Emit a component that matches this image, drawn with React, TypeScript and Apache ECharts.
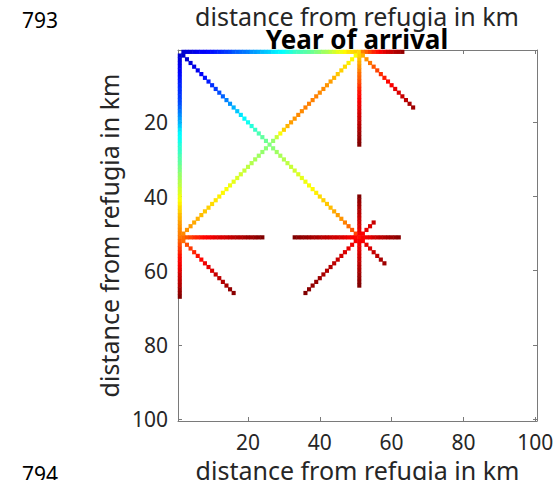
import React, { useEffect, useRef } from "react";
import * as echarts from "echarts";

// grid categories (km, 1..100)
const cells: string[] = Array.from({ length: 100 }, (_, i) => String(i + 1));
const tickValues = [20, 40, 60, 80, 100];

// arrival-year values read along each dispersal ray (jet scale 0..100)
const topRowVals = [8, 9, 9, 10, 11, 12, 12, 13, 14, 15, 16, 17, 18, 19, 21, 22, 23, 24, 25, 27, 28, 29, 31, 32, 33, 35, 36, 37, 38, 40, 41, 43, 44, 45, 46, 47, 48, 50, 51, 53, 54, 56, 58, 60, 61, 63, 65, 66, 67, 66, 75, 78, 81, 84, 86, 88, 90, 92, 93, 95, 96, 98];
const leftColVals = [8, 9, 10, 11, 12, 13, 14, 15, 16, 17, 17, 18, 19, 20, 22, 24, 26, 28, 30, 32, 35, 37, 38, 39, 41, 42, 43, 45, 46, 47, 49, 50, 52, 53, 55, 56, 58, 59, 61, 62, 64, 66, 67, 69, 70, 72, 73, 74, 75, 76, 78, 80, 82, 84, 86, 87, 88, 89, 90, 92, 93, 94, 95, 97, 98, 100];
const mainDiagVals = [7, 8, 9, 10, 11, 12, 14, 15, 17, 18, 20, 22, 25, 27, 30, 32, 35, 37, 39, 41, 43, 45, 47, 48, 50, 51, 53, 54, 55, 56, 57, 58, 59, 60, 61, 62, 63, 64, 66, 67, 68, 69, 71, 72, 73, 75, 77, 79, 81];
const antiUpperVals = [62, 63, 64, 66, 67, 68, 70, 72, 73, 74, 74, 75, 75, 75, 75, 74, 74, 73, 72, 70, 67, 62, 57, 52];
const antiLowerVals = [51, 52, 53, 54, 55, 56, 57, 58, 59, 60, 61, 62, 63, 64, 65, 66, 67, 68, 69, 70, 71, 72, 73, 74];
const col51TopVals = [67, 69, 71, 73, 75, 77, 78, 80, 82, 84, 86, 87, 88, 89, 90, 91, 92, 93, 94, 95, 96, 97, 98, 99, 100];
const diag51TopVals = [70, 73, 76, 79, 81, 83, 85, 87, 88, 90, 91, 93, 94, 96, 97];
const row51LeftVals = [77, 79, 81, 83, 84, 86, 87, 88, 89, 90, 91, 91, 92, 93, 94, 95, 95, 96, 97, 97, 98, 99, 100];
const diag1_51Vals = [77, 80, 82, 84, 86, 87, 89, 90, 91, 93, 94, 95, 96, 98, 99];
const starCenterVals = [86];
const starLeftVals = [87, 88, 89, 90, 91, 92, 92, 93, 94, 94, 95, 96, 96, 97, 98, 98, 99, 100];
const starRightVals = [88, 89, 90, 92, 93, 94, 95, 96, 97, 98, 99];
const starUpVals = [88, 90, 91, 92, 93, 94, 95, 96, 97, 98, 100];
const starDownVals = [88, 89, 90, 91, 92, 93, 94, 95, 96, 97, 98, 99, 100];
const starUpRightVals = [88, 90, 91, 93];
const starDownRightVals = [88, 90, 91, 93, 94, 96, 97];
const starDownLeftVals = [88, 89, 90, 91, 92, 93, 94, 95, 95, 96, 97, 98, 98, 99, 100];

// rays: first cell (column, row) and step direction
const rays: { start: [number, number]; step: [number, number]; values: number[] }[] = [
  { start: [2, 1], step: [1, 0], values: topRowVals },
  { start: [1, 2], step: [0, 1], values: leftColVals },
  { start: [2, 2], step: [1, 1], values: mainDiagVals },
  { start: [50, 2], step: [-1, 1], values: antiUpperVals },
  { start: [25, 27], step: [-1, 1], values: antiLowerVals },
  { start: [51, 2], step: [0, 1], values: col51TopVals },
  { start: [52, 2], step: [1, 1], values: diag51TopVals },
  { start: [2, 51], step: [1, 0], values: row51LeftVals },
  { start: [2, 52], step: [1, 1], values: diag1_51Vals },
  { start: [51, 51], step: [0, 0], values: starCenterVals },
  { start: [50, 51], step: [-1, 0], values: starLeftVals },
  { start: [52, 51], step: [1, 0], values: starRightVals },
  { start: [51, 50], step: [0, -1], values: starUpVals },
  { start: [51, 52], step: [0, 1], values: starDownVals },
  { start: [52, 50], step: [1, -1], values: starUpRightVals },
  { start: [52, 52], step: [1, 1], values: starDownRightVals },
  { start: [50, 52], step: [-1, 1], values: starDownLeftVals },
];

const jet = ["#000080", "#0000ff", "#0080ff", "#00ffff", "#80ff80", "#ffff00", "#ff8000", "#ff0000", "#800000"];

const FONT = "Noto Sans";
const AXIS_GRAY = "#7a7a7a";
const TEXT_GRAY = "#262626";

function buildData(): [number, number, number][] {
  const out: [number, number, number][] = [];
  rays.forEach((ray) => {
    ray.values.forEach((v, k) => {
      const c = ray.start[0] + ray.step[0] * k;
      const r = ray.start[1] + ray.step[1] * k;
      out.push([c - 1, r - 1, v]);
    });
  });
  return out;
}

const showTick = (i: number) => tickValues.includes(i + 1);

export default function App() {
  const ref = useRef<HTMLDivElement>(null);
  useEffect(() => {
    if (!ref.current) return;
    const chart = echarts.init(ref.current, null, { renderer: "svg" });
    const baseAxis = {
      type: "category" as const,
      data: cells,
      boundaryGap: true,
      axisLine: { show: true, lineStyle: { color: AXIS_GRAY, width: 1 } },
      axisTick: { show: true, inside: true, length: 4, alignWithLabel: true, interval: showTick, lineStyle: { color: AXIS_GRAY } },
      splitLine: { show: false },
    };
    const label = { fontFamily: FONT, fontSize: 21, color: TEXT_GRAY };
    chart.setOption({
      animation: false,
      backgroundColor: "#ffffff",
      grid: { left: 178, right: 16, top: 50, bottom: 59, containLabel: false, outerBoundsMode: "none" },
      visualMap: { type: "continuous", min: 0, max: 100, show: false, inRange: { color: jet }, seriesIndex: 0 },
      xAxis: [
        {
          ...baseAxis,
          position: "bottom",
          axisLabel: { ...label, lineHeight: 21, interval: showTick, margin: 10 },
          name: "distance from refugia in km",
          nameLocation: "middle",
          nameGap: 36,
          nameTextStyle: { ...label, fontSize: 25, lineHeight: 25 },
        },
        { ...baseAxis, position: "top", axisLabel: { show: false } },
      ],
      yAxis: [
        {
          ...baseAxis,
          inverse: true,
          position: "left",
          axisLabel: { ...label, interval: showTick, margin: 10 },
          name: "distance from refugia in km",
          nameLocation: "middle",
          nameGap: 52,
          nameRotate: 90,
          nameTextStyle: { ...label, fontSize: 25, lineHeight: 25 },
        },
        { ...baseAxis, inverse: true, position: "right", axisLabel: { show: false } },
      ],
      series: [
        {
          type: "heatmap",
          xAxisIndex: 0,
          yAxisIndex: 0,
          data: buildData(),
          itemStyle: { borderWidth: 0 },
          emphasis: { disabled: true },
          progressive: 0,
        },
      ],
      graphic: [
        { type: "text", left: 22, top: 9, style: { text: "793", font: `21px ${FONT}`, fill: "#000", lineHeight: 21 } },
        { type: "text", left: 22, top: 463, style: { text: "794", font: `21px ${FONT}`, fill: "#000", lineHeight: 21 } },
        { type: "text", x: 357, y: 16, style: { text: "distance from refugia in km", font: `25px ${FONT}`, fill: TEXT_GRAY, textAlign: "center", textVerticalAlign: "middle", lineHeight: 20 } },
        { type: "text", x: 357, y: 39, style: { text: "Year of arrival", font: `bold 26px ${FONT}`, fill: "#000", textAlign: "center", textVerticalAlign: "middle", lineHeight: 20 } },
      ],
    });
    return () => chart.dispose();
  }, []);
  return <div ref={ref} style={{ position: "absolute", left: 0, top: 0, width: 553, height: 480 }} />;
}
